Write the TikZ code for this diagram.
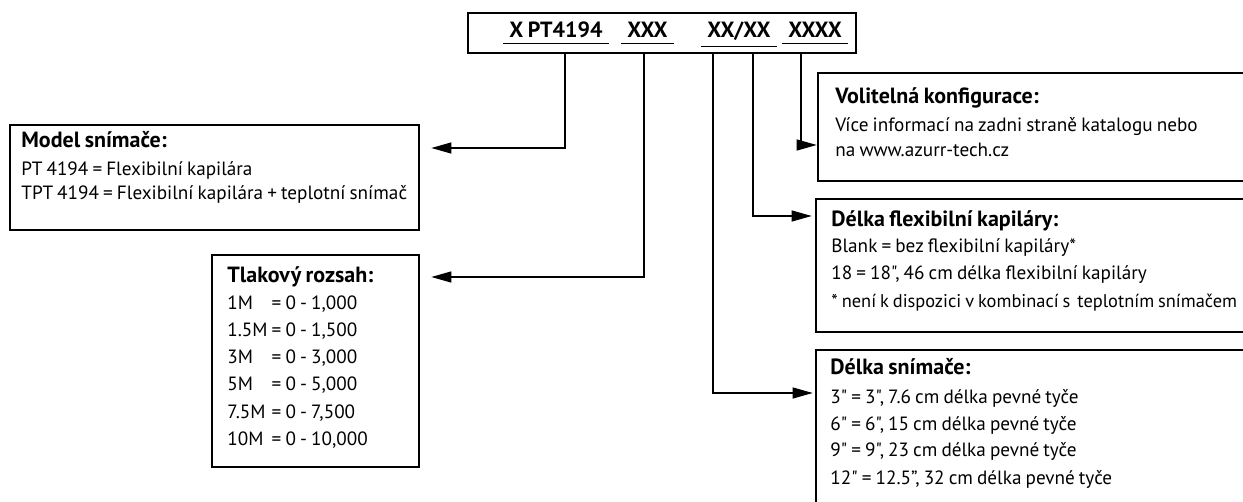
\documentclass[tikz,border=0pt]{standalone}
\usepackage{fontspec}
\setmainfont{PT Sans}[Ligatures=TeXOff, WordSpace=0.8]
\usetikzlibrary{arrows.meta,positioning,fit}

\newcommand{\bodyfont}{\fontsize{9.6}{12}\selectfont}
\newcommand{\titlefont}{\fontsize{11}{13}\selectfont\bfseries}

\begin{document}
\begin{tikzpicture}[
  x=0.5pt, y=-0.5pt,
  box/.style={draw=black, line width=1.3pt, inner sep=0pt},
  codebox/.style={draw=black, line width=1pt, inner sep=0pt},
  code/.style={font=\fontsize{11}{12}\selectfont\bfseries, inner xsep=3pt, inner ysep=2.5pt, anchor=base west},
  txt/.style={inner sep=0pt, anchor=base west, font=\bodyfont},
  ttl/.style={txt, font=\titlefont},
  link/.style={-{Triangle[length=10pt,width=5.5pt]}, line width=0.6pt},
]
  \useasboundingbox (0,0) rectangle (1243,502);
  \clip (0,0) rectangle (1243,502);

  % order code
  \node[codebox, fit={(468,13) (856,53)}] (code) {};
  \node[code] (code1) at (503,38) {X PT4194};
  \node[code] (code2) at (621,38) {XXX};
  \node[code] (code3) at (701,38) {XX/XX};
  \node[code] (code4) at (782,38) {XXXX};
  \foreach \i in {1,...,4}
    \draw[line width=0.5pt] (code\i.south west) -- (code\i.south east);

  % boxes
  \node[box, fit={(10,125) (419,230)}] (model) {};
  \node[box, fit={(212,255) (419,467)}] (tlak) {};
  \node[box, fit={(818,73) (1262,181)}] (voli) {};
  \node[box, fit={(816,199) (1262,332)}] (dflex) {};
  \node[box, fit={(816,350) (1262,520)}] (dsnim) {};

  % model
  \node[ttl] (modelt) at (21,148) {Model snímače:};
  \node[txt] (model1) at (21,176) {PT 4194 = Flexibilní kapilára};
  \node[txt] (model2) at (21,200) {TPT 4194 = Flexibilní kapilára + teplotní snímač};

  % pressure range
  \node[ttl] (tlakt) at (227,283) {Tlakový rozsah:};
  \foreach \r/\v [count=\i] in {1M/{1,000}, 1.5M/{1,500}, 3M/{3,000}, 5M/{5,000}, 7.5M/{7,500}, 10M/{10,000}}
    \node[txt] (tlak\i) at (227,283+\i*27) {\makebox[0pt][l]{\r}\phantom{1.5M}\ = 0 - \v};

  % options
  \node[ttl] (volit) at (835,104) {Volitelná konfigurace:};
  \node[txt] (voli1) at (835,132) {Více informací na zadni straně katalogu nebo};
  \node[txt] (voli2) at (835,157) {na www.azurr-tech.cz};

  % capillary length
  \node[ttl] (dflext) at (831,227) {Délka flexibilní kapiláry:};
  \node[txt] (dflex1) at (831,253) {Blank = bez flexibilní kapiláry*};
  \node[txt] (dflex2) at (831,280) {18 = 18", 46 cm délka flexibilní kapiláry};
  \node[txt, font=\fontsize{9.2}{12}\selectfont] (dflex3) at (831,307)
    {* není k dispozici v kombinací s\hspace{3.5pt}teplotním snímačem};

  % probe length
  \node[ttl] (dsnimt) at (830,375) {Délka snímače:};
  \node[txt] (dsnim1) at (830,403) {3" = 3", 7.6 cm délka pevné tyče};
  \node[txt] (dsnim2) at (830,430) {6" = 6", 15 cm délka pevné tyče};
  \node[txt] (dsnim3) at (830,457) {9" = 9", 23 cm délka pevné tyče};
  \node[txt] (dsnim4) at (830,484) {12" = 12.5”, 32 cm délka pevné tyče};

  % connectors
  \foreach \n/\x in {1/565,2/644,3/713,4/753,5/801}
    \coordinate (tap\n) at (\x,0);
  \foreach \n/\y in {1/148,2/277,3/393,4/216,5/145}
    \coordinate (lvl\n) at (0,\y);
  \draw[link, shorten >=5.5pt] (code.south -| tap1) |- (model.east |- lvl1);
  \draw[link, shorten >=5.5pt] (code.south -| tap2) |- (tlak.east |- lvl2);
  \draw[link, shorten >=1pt] (code.south -| tap3) |- (dsnim.west |- lvl3);
  \draw[link, shorten >=1.5pt] (code.south -| tap4) |- (dflex.west |- lvl4);
  \draw[link] (code.south -| tap5) |- (voli.west |- lvl5);
\end{tikzpicture}
\end{document}
